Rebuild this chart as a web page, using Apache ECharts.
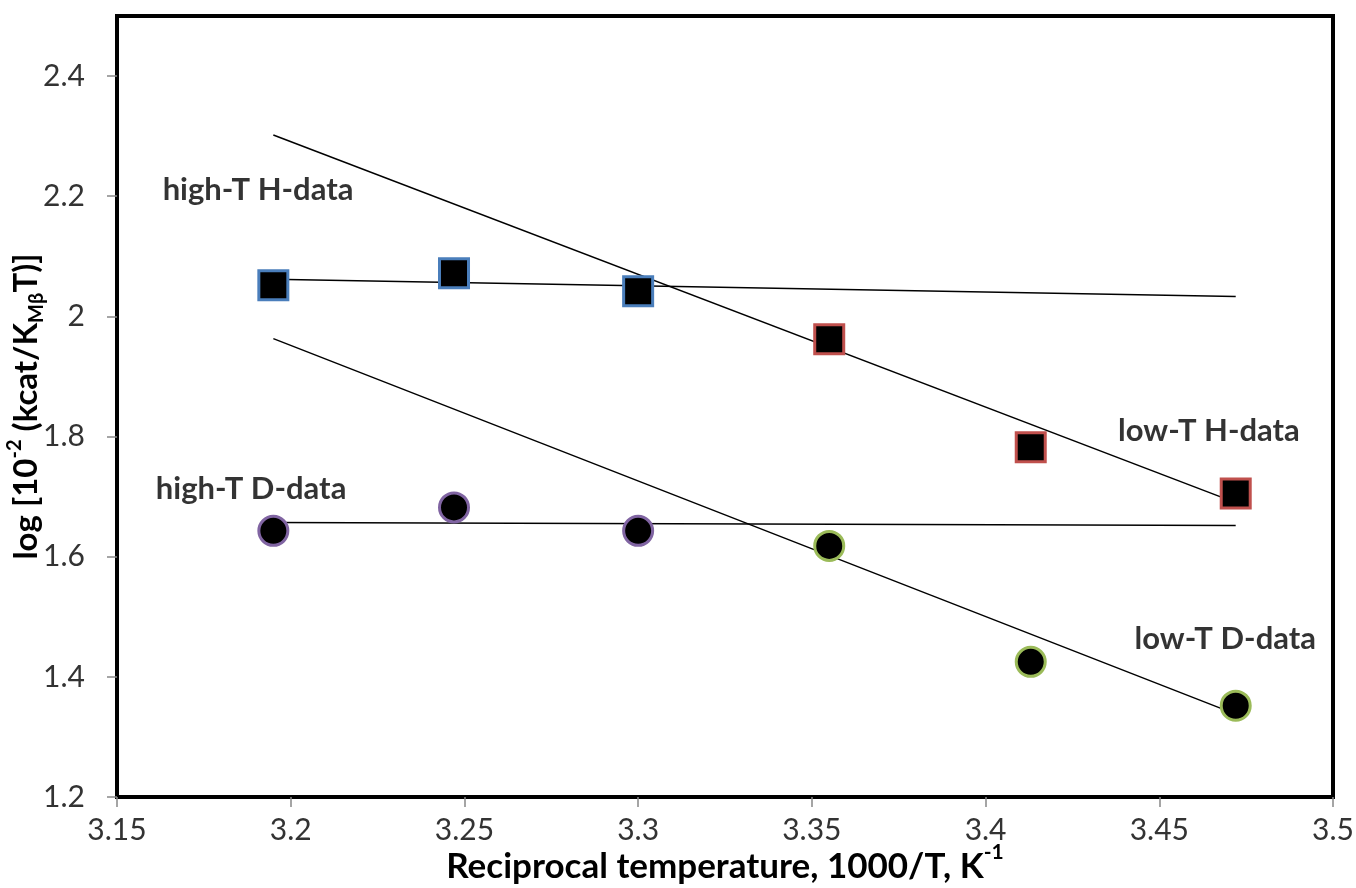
<!DOCTYPE html>
<html>
<head>
<meta charset="utf-8">
<script src="https://cdn.jsdelivr.net/npm/echarts@6/dist/echarts.min.js"></script>
<style>
  html, body { margin: 0; padding: 0; background: #fff; }
  #chart { width: 1356px; height: 888px; }
</style>
</head>
<body>
<div id="chart"></div>
<script>
// tick labels
const xTicks = [3.15, 3.2, 3.25, 3.3, 3.35, 3.4, 3.45, 3.5];
const yTicks = [1.2, 1.4, 1.6, 1.8, 2, 2.2, 2.4];

// measured points
const highTX = [3.195, 3.247, 3.3];
const lowTX = [3.355, 3.413, 3.472];
const highTH = [2.052, 2.072, 2.042];
const lowTH = [1.962, 1.782, 1.705];
const highTD = [1.643, 1.682, 1.643];
const lowTD = [1.618, 1.425, 1.352];

// fitted lines (ends at x = 3.195 and 3.472)
const fitX = [3.195, 3.472];
const fitHighTH = [2.062, 2.033];
const fitLowTH = [2.302, 1.69];
const fitHighTD = [1.657, 1.652];
const fitLowTD = [1.963, 1.338];

// text labels placed in data coordinates
const labelNames = ['high-T H-data', 'low-T H-data', 'high-T D-data', 'low-T D-data'];
const labelX = [3.1906, 3.4643, 3.1886, 3.469];
const labelY = [2.21, 1.81, 1.713, 1.463];

const FONT = 'Lato, "Open Sans", sans-serif';

const pairs = (xs, ys) => xs.map((x, i) => [x, ys[i]]);

const pointSeries = (name, xs, ys, symbol, border) => ({
  name,
  type: 'scatter',
  data: pairs(xs, ys),
  symbol,
  symbolSize: 29,
  z: 5,
  itemStyle: { color: '#000', opacity: 1, borderColor: border, borderWidth: 3 }
});

const fitSeries = (ys) => ({
  type: 'line',
  data: pairs(fitX, ys),
  showSymbol: false,
  silent: true,
  z: 3,
  lineStyle: { color: '#000', width: 1.5 }
});

const chart = echarts.init(document.getElementById('chart'));
chart.setOption({
  animation: false,
  backgroundColor: '#fff',
  grid: {
    left: 117, right: 23, top: 16, bottom: 91,
    outerBoundsMode: 'none',
    containLabel: false,
    show: true, borderColor: '#000', borderWidth: 4
  },
  xAxis: {
    type: 'value',
    min: 3.15, max: 3.5, interval: 0.05,
    name: '{b|Reciprocal temperature, 1000/T, K}{sup|-1}',
    nameLocation: 'middle',
    nameMoveOverlap: false,
    nameGap: 45,
    nameTextStyle: {
      rich: {
        b: { fontFamily: FONT, fontWeight: 'bold', fontSize: 35, color: '#000', lineHeight: 42, verticalAlign: 'bottom' },
        sup: { fontFamily: FONT, fontWeight: 'bold', fontSize: 21, color: '#000', lineHeight: 42, verticalAlign: 'top' }
      }
    },
    axisLine: { show: false },
    splitLine: { show: false },
    axisTick: { show: true, inside: false, length: 10, customValues: xTicks, lineStyle: { color: '#888', width: 1.5 } },
    axisLabel: {
      customValues: xTicks,
      formatter: v => String(Math.round(v * 100) / 100),
      margin: 18, fontFamily: FONT, fontSize: 30, color: '#333'
    }
  },
  yAxis: {
    type: 'value',
    min: 1.2, max: 2.5, interval: 0.2,
    name: '{b|log [10}{sup|-2}{b| (kcat/K}{sub|Mβ}{b|T)]}',
    nameLocation: 'middle',
    nameMoveOverlap: false,
    nameRotate: 90,
    nameGap: 70,
    nameTextStyle: {
      rich: {
        b: { fontFamily: FONT, fontWeight: 'bold', fontSize: 33, color: '#000', lineHeight: 42, verticalAlign: 'middle' },
        sup: { fontFamily: FONT, fontWeight: 'bold', fontSize: 20, color: '#000', lineHeight: 42, verticalAlign: 'top' },
        sub: { fontFamily: FONT, fontWeight: 'bold', fontSize: 20, color: '#000', lineHeight: 42, verticalAlign: 'bottom' }
      }
    },
    axisLine: { show: false },
    splitLine: { show: false },
    axisTick: { show: true, inside: false, length: 10, customValues: yTicks, lineStyle: { color: '#888', width: 1.5 } },
    axisLabel: {
      customValues: yTicks,
      formatter: v => String(Math.round(v * 10) / 10),
      margin: 32, fontFamily: FONT, fontSize: 30, color: '#333'
    }
  },
  series: [
    fitSeries(fitHighTH),
    fitSeries(fitLowTH),
    fitSeries(fitHighTD),
    fitSeries(fitLowTD),
    pointSeries('high-T H', highTX, highTH, 'rect', '#4a7ebb'),
    pointSeries('low-T H', lowTX, lowTH, 'rect', '#c0504d'),
    pointSeries('high-T D', highTX, highTD, 'circle', '#8064a2'),
    pointSeries('low-T D', lowTX, lowTD, 'circle', '#9bbb59'),
    {
      type: 'scatter',
      silent: true,
      symbolSize: 0,
      data: labelNames.map((n, i) => ({ name: n, value: [labelX[i], labelY[i]] })),
      label: {
        show: true,
        position: 'inside',
        formatter: p => p.name,
        fontFamily: FONT, fontWeight: 'bold', fontSize: 31, color: '#000'
      }
    }
  ]
});
</script>
</body>
</html>
